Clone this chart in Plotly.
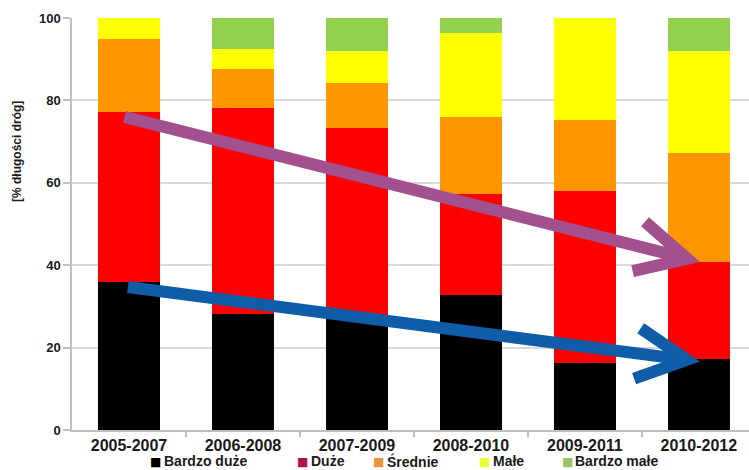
import math
import plotly.graph_objects as go

# Road-length share by condition class, three-year periods
periods = ["2005-2007", "2006-2008", "2007-2009", "2008-2010", "2009-2011", "2010-2012"]
bardzo_duze = [36.0, 28.2, 27.5, 32.8, 16.3, 17.2]
duze = [41.2, 50.0, 45.8, 24.5, 41.7, 23.6]
srednie = [17.8, 9.4, 10.9, 18.7, 17.2, 26.4]
male = [5.0, 4.9, 7.8, 20.4, 24.8, 24.8]
bardzo_male = [0.0, 7.5, 8.0, 3.6, 0.0, 8.0]

series_names = ["Bardzo duże", "Duże", "Średnie", "Małe", "Bardzo małe"]
series_values = [bardzo_duze, duze, srednie, male, bardzo_male]
bar_colors = ["#000000", "#FF0000", "#FF9500", "#FFFF00", "#92D050"]
legend_colors = ["#000000", "#B0124D", "#E8943A", "#EEFF3C", "#9BC46A"]

y_ticks = [0, 20, 40, 60, 80, 100]

# layout geometry
W, H = 749, 470
ML, MR, MT, MB = 72, 0, 18, 40
X_RANGE = [-0.5, 5.44]
Y_RANGE = [0, 100]
PW, PH = W - ML - MR, H - MT - MB
sx = PW / (X_RANGE[1] - X_RANGE[0])   # px per category
sy = PH / (Y_RANGE[1] - Y_RANGE[0])   # px per percent

# legend row: swatch centre and label start (px from left), row centre
legend_swatch_x = [155, 302, 378, 484, 567]
legend_label_x = [162, 309, 385, 491, 573]
legend_row_y = 461

FONT = "Liberation Sans, Arial, sans-serif"
xs = list(range(len(periods)))

fig = go.Figure()
for name, vals, col in zip(series_names, series_values, bar_colors):
    fig.add_trace(go.Bar(
        x=xs, y=vals, name=name, marker=dict(color=col, line=dict(width=0)),
        width=0.55, showlegend=False, hoverinfo="y+name",
    ))

# cumulative tops used to anchor the trend arrows
top_black = bardzo_duze
top_red = [a + b for a, b in zip(bardzo_duze, duze)]


def add_arrow(x0, y0, x1, y1, color, width=12, head_len=56, head_ang=27):
    """Thick shaft plus an open chevron head whose outer point sits at (x1, y1)."""
    p0 = (x0 * sx, y0 * sy)
    p1 = (x1 * sx, y1 * sy)
    dx, dy = p0[0] - p1[0], p0[1] - p1[1]
    n = math.hypot(dx, dy)
    ux, uy = dx / n, dy / n
    # pull the vertex back so the mitred corner lands on the target
    back = (width / 2) / math.sin(math.radians(head_ang))
    vx, vy = p1[0] + ux * back, p1[1] + uy * back
    arms = []
    for s in (1, -1):
        a = math.radians(head_ang) * s
        rx = ux * math.cos(a) - uy * math.sin(a)
        ry = ux * math.sin(a) + uy * math.cos(a)
        arms.append(((vx + rx * head_len) / sx, (vy + ry * head_len) / sy))
    vxd, vyd = vx / sx, vy / sy
    fig.add_shape(type="line", xref="x", yref="y", x0=x0, y0=y0, x1=vxd, y1=vyd,
                  line=dict(color=color, width=width))
    fig.add_shape(type="path", xref="x", yref="y",
                  path=f"M {arms[0][0]},{arms[0][1]} L {vxd},{vyd} L {arms[1][0]},{arms[1][1]}",
                  line=dict(color=color, width=width), fillcolor="rgba(0,0,0,0)")


add_arrow(xs[0] - 0.04, top_red[0] - 1.2, xs[-1] + 0.01, top_red[-1], "#A2508E")
add_arrow(xs[0] - 0.01, top_black[0] - 1.3, xs[-1] + 0.01, top_black[-1] - 0.6, "#0F5CA8")


def px_to_paper(px, py):
    return (px - ML) / PW, (H - MB - py) / PH


annotations = []
ax_, ay_ = px_to_paper(17, 151)
annotations.append(dict(
    text="[% długości dróg]", textangle=-90, showarrow=False,
    xref="paper", yref="paper", x=ax_, y=ay_, xanchor="center", yanchor="middle",
    font=dict(size=12, family=FONT, weight="bold", color="#1A1A1A"),
))

# legend drawn as a row of swatch glyphs and bold labels beneath the axis
for name, col, sxp, lxp in zip(series_names, legend_colors, legend_swatch_x, legend_label_x):
    px_, py_ = px_to_paper(sxp, legend_row_y + 1)
    annotations.append(dict(
        text="■", showarrow=False, xref="paper", yref="paper",
        x=px_, y=py_, xanchor="center", yanchor="middle",
        font=dict(size=12, family="DejaVu Sans", color=col),
    ))
    lx_, ly_ = px_to_paper(lxp, legend_row_y)
    annotations.append(dict(
        text=name, showarrow=False, xref="paper", yref="paper",
        x=lx_, y=ly_, xanchor="left", yanchor="middle",
        font=dict(size=14, family=FONT, weight="bold", color="#1A1A1A"),
    ))

fig.update_layout(
    width=W, height=H,
    margin=dict(l=ML, r=MR, t=MT, b=MB),
    barmode="stack",
    plot_bgcolor="white", paper_bgcolor="white",
    showlegend=False,
    font=dict(family=FONT, color="#1A1A1A"),
    xaxis=dict(
        range=X_RANGE, tickmode="array", tickvals=xs, ticktext=periods,
        tickfont=dict(size=16, family=FONT, weight="bold"),
        ticks="", showline=True, linecolor="#BFBFBF", linewidth=1.5,
        showgrid=False, zeroline=False,
        minor=dict(tickmode="array", tickvals=[i + 0.5 for i in xs[:-1]],
                   ticks="outside", ticklen=5, tickcolor="#BFBFBF", tickwidth=1.5,
                   showgrid=False),
    ),
    yaxis=dict(
        range=Y_RANGE, tickmode="array", tickvals=y_ticks,
        tickfont=dict(size=13, family=FONT, weight="bold"),
        ticks="outside", ticklen=7, tickcolor="#BFBFBF", tickwidth=1.5,
        showline=True, linecolor="#BFBFBF", linewidth=1.5,
        showgrid=True, gridcolor="#D9D9D9", gridwidth=1.5, zeroline=False,
    ),
    annotations=annotations,
)

fig.write_html("out.html")
